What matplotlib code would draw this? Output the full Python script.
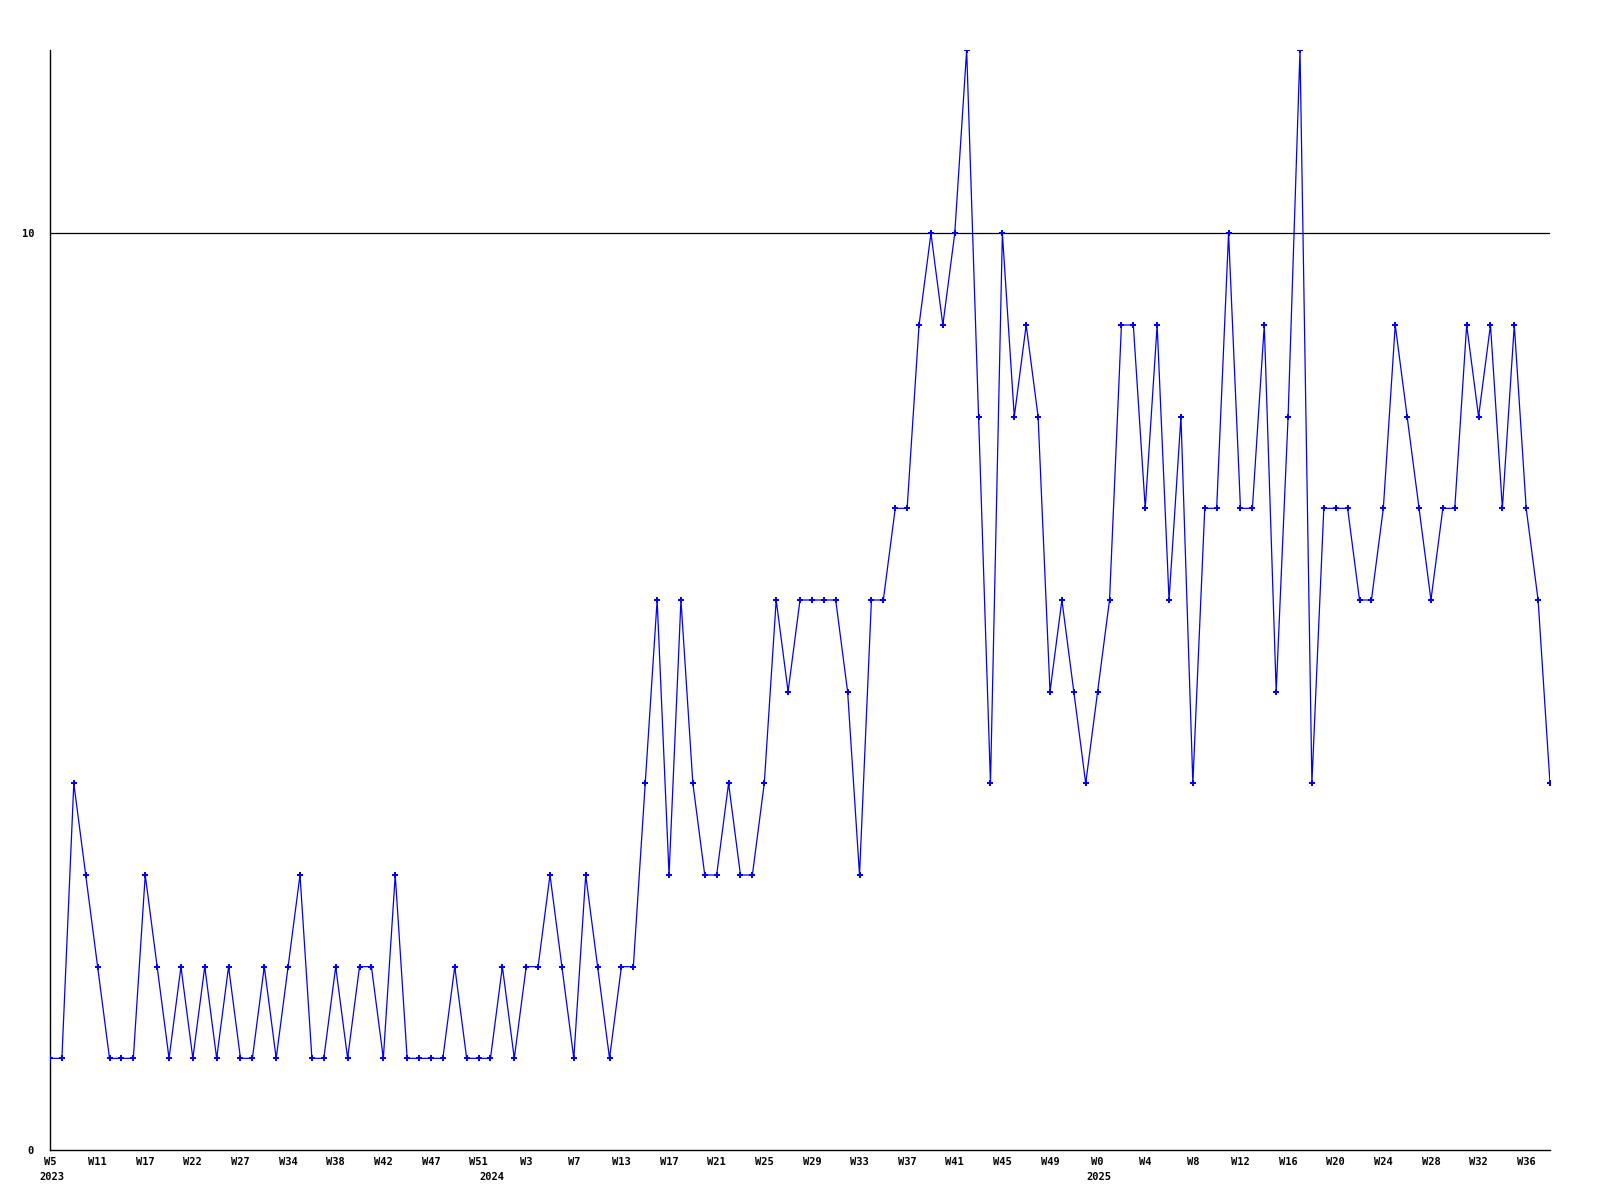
import matplotlib
matplotlib.use("Agg")
import matplotlib.pyplot as plt

values = [1, 1, 4, 3, 2, 1, 1, 1, 3, 2,
          1, 2, 1, 2, 1, 2, 1, 1, 2, 1,
          2, 3, 1, 1, 2, 1, 2, 2, 1, 3,
          1, 1, 1, 1, 2, 1, 1, 1, 2, 1,
          2, 2, 3, 2, 1, 3, 2, 1, 2, 2,
          4, 6, 3, 6, 4, 3, 3, 4, 3, 3,
          4, 6, 5, 6, 6, 6, 6, 5, 3, 6,
          6, 7, 7, 9, 10, 9, 10, 12, 8, 4,
          10, 8, 9, 8, 5, 6, 5, 4, 5, 6,
          9, 9, 7, 9, 6, 8, 4, 7, 7, 10,
          7, 7, 9, 5, 8, 12, 4, 7, 7, 7,
          6, 6, 7, 9, 8, 7, 6, 7, 7, 9,
          8, 9, 7, 9, 7, 6, 4]

week_labels = ["W5", "W11", "W17", "W22", "W27", "W34", "W38", "W42", "W47", "W51",
               "W3", "W7", "W13", "W17", "W21", "W25", "W29", "W33", "W37", "W41",
               "W45", "W49", "W0", "W4", "W8", "W12", "W16", "W20", "W24", "W28",
               "W32", "W36"]
year_labels = ["2023", "2024", "2025"]
year_label_index = [0, 37, 88]
y_ticks = [0, 10]

x = list(range(len(values)))
label_step = 4

fig = plt.figure(figsize=(16, 12), dpi=100)
ax = fig.add_axes([50 / 1600, 1 - 1150 / 1200, 1500 / 1600, 1100 / 1200])

ax.plot(x, values, color="#0000ff", linewidth=0.9, marker="P", markersize=4,
        markeredgewidth=0, clip_on=True, zorder=3)

ax.set_xlim(0, len(values) - 1)
ax.set_ylim(0, 12)

for yt in y_ticks:
    if yt > 0:
        ax.axhline(yt, color="black", linewidth=0.9, zorder=2)

ax.spines["top"].set_visible(False)
ax.spines["right"].set_visible(False)
ax.spines["left"].set_linewidth(1.0)
ax.spines["bottom"].set_linewidth(1.0)

font = dict(family="DejaVu Sans Mono", weight="bold", size=7.5)
ax.set_xticks(x[::label_step])
ax.set_xticklabels(week_labels, **font)
ax.set_yticks(y_ticks)
ax.set_yticklabels([str(v) for v in y_ticks], **font)
ax.tick_params(axis="both", length=0)
ax.tick_params(axis="x", pad=5)
ax.tick_params(axis="y", pad=11.5)

for lbl, idx in zip(year_labels, year_label_index):
    ax.annotate(lbl, xy=(idx, 0), xycoords="data", xytext=(1, -19.5),
                textcoords="offset points", ha="center", va="center",
                annotation_clip=False, **font)

fig.savefig("out.png", dpi=100, facecolor="white")
